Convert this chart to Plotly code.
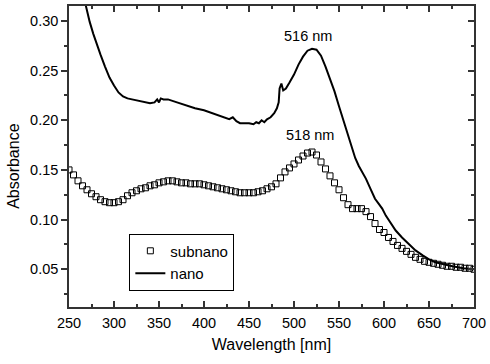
import plotly.graph_objects as go

# subnano (markers), 5 nm steps
sub_wl = list(range(250, 701, 5))
sub_abs = [0.150, 0.145, 0.139, 0.134, 0.130, 0.126, 0.123, 0.120, 0.118, 0.117,
           0.117, 0.118, 0.120, 0.124, 0.127, 0.129, 0.131, 0.132, 0.134, 0.135,
           0.137, 0.138, 0.139, 0.139, 0.138, 0.137, 0.137, 0.136, 0.136, 0.136,
           0.135, 0.134, 0.133, 0.132, 0.131, 0.130, 0.129, 0.128, 0.127, 0.127,
           0.127, 0.127, 0.128, 0.129, 0.131, 0.133, 0.136, 0.142, 0.148, 0.152,
           0.156, 0.160, 0.164, 0.167, 0.168, 0.165, 0.158, 0.151, 0.144, 0.137,
           0.130, 0.122, 0.115, 0.111, 0.111, 0.111, 0.108, 0.103, 0.096, 0.090,
           0.087, 0.082, 0.078, 0.074, 0.071, 0.068, 0.065, 0.062, 0.060, 0.058,
           0.057, 0.056, 0.055, 0.054, 0.053, 0.053, 0.052, 0.052, 0.051, 0.051,
           0.050]

# nano (line)
nano_wl = [268, 270, 273, 277, 281, 285, 290, 295, 300, 305, 310, 315, 320, 330, 340,
           345, 348, 350, 352, 355, 360, 370, 380, 390, 400, 410, 420, 425, 428, 432,
           436, 440, 445, 450, 455, 458, 461, 464, 467, 470, 474, 478, 481, 483, 484,
           486, 488, 491, 495, 500, 505, 510, 515, 520, 525, 530, 535, 540, 545, 550,
           555, 560, 565, 568, 572, 576, 580, 585, 590, 594, 598, 602, 607, 613, 620,
           628, 635, 643, 650, 657, 665, 676, 688, 700]
nano_abs = [0.318, 0.310, 0.299, 0.287, 0.276, 0.266, 0.254, 0.243, 0.235, 0.228,
            0.224, 0.222, 0.221, 0.219, 0.217, 0.218, 0.221, 0.218, 0.222, 0.221,
            0.221, 0.218, 0.215, 0.212, 0.210, 0.207, 0.204, 0.202, 0.201, 0.203,
            0.199, 0.197, 0.197, 0.197, 0.196, 0.198, 0.197, 0.200, 0.198, 0.201,
            0.203, 0.207, 0.212, 0.218, 0.232, 0.237, 0.230, 0.232, 0.238, 0.246,
            0.256, 0.264, 0.270, 0.272, 0.271, 0.265, 0.254, 0.242, 0.229, 0.214,
            0.199, 0.184, 0.170, 0.162, 0.154, 0.148, 0.141, 0.131, 0.121, 0.116,
            0.111, 0.104, 0.097, 0.089, 0.082, 0.075, 0.069, 0.064, 0.060, 0.057,
            0.055, 0.053, 0.051, 0.050]

peak_labels = ["516 nm", "518 nm"]
peak_x = [516, 518]
peak_y = [0.285, 0.185]

FONT = "Liberation Sans, Arial, sans-serif"
AX = "#333333"

fig = go.Figure()
fig.add_trace(go.Scatter(x=sub_wl, y=sub_abs, mode="markers", name="subnano",
                         marker=dict(symbol="square-open", size=6,
                                     color="black", line=dict(width=1))))
fig.add_trace(go.Scatter(x=nano_wl, y=nano_abs, mode="lines", name="nano",
                         line=dict(color="black", width=2)))
fig.add_trace(go.Scatter(x=[], y=[], yaxis="y2", showlegend=False, hoverinfo="skip"))

for t, x, y in zip(peak_labels, peak_x, peak_y):
    fig.add_annotation(x=x, y=y, text=t, showarrow=False,
                       font=dict(size=14.5, color="black", family=FONT))

# y-axis title placed as rotated text (sits slightly below the plot centre)
fig.add_annotation(x=-0.139, xref="paper", y=0.468, yref="paper", text="Absorbance",
                   textangle=-90, showarrow=False, xanchor="center", yanchor="middle",
                   font=dict(size=16, color="black", family=FONT))

fig.update_layout(
    width=490, height=364,
    margin=dict(l=69, r=11, t=4, b=57),
    paper_bgcolor="white", plot_bgcolor="white",
    font=dict(family=FONT, size=14.5, color="black"),
    showlegend=True,
    legend=dict(x=0.149, y=0.244, xanchor="left", yanchor="top",
                bordercolor="black", borderwidth=1, bgcolor="white",
                font=dict(size=15), tracegroupgap=0, entrywidth=90,
                entrywidthmode="pixels"),
    xaxis=dict(range=[250, 700], dtick=50, tick0=250, ticks="inside", ticklen=6,
               tickwidth=1.5, tickcolor=AX, mirror="ticks", showline=True,
               linecolor=AX, linewidth=1.5, showgrid=False, zeroline=False,
               ticklabelstandoff=2, ticklabeloverflow="allow",
               minor=dict(dtick=25, ticks="inside", ticklen=3, tickcolor=AX),
               title=dict(text="Wavelength [nm]", standoff=9, font=dict(size=16))),
    yaxis=dict(range=[0.012, 0.315], dtick=0.05, tick0=0, tickformat=".2f",
               ticks="outside", ticklen=6, tickwidth=1.5, tickcolor=AX,
               showline=True, linecolor=AX, linewidth=1.5, showgrid=False,
               zeroline=False,
               minor=dict(dtick=0.025, ticks="outside", ticklen=3, tickcolor=AX)),
    yaxis2=dict(overlaying="y", side="right", matches="y", showticklabels=False,
                ticks="inside", ticklen=6, tickwidth=1.5, tickcolor=AX, dtick=0.05,
                tick0=0, showline=True, linecolor=AX, linewidth=1.5, showgrid=False,
                zeroline=False,
                minor=dict(dtick=0.025, ticks="inside", ticklen=3, tickcolor=AX)),
)

fig.write_html("out.html", config={"displayModeBar": False},
               post_script="document.body.style.margin='0';document.body.style.overflow='hidden';")
